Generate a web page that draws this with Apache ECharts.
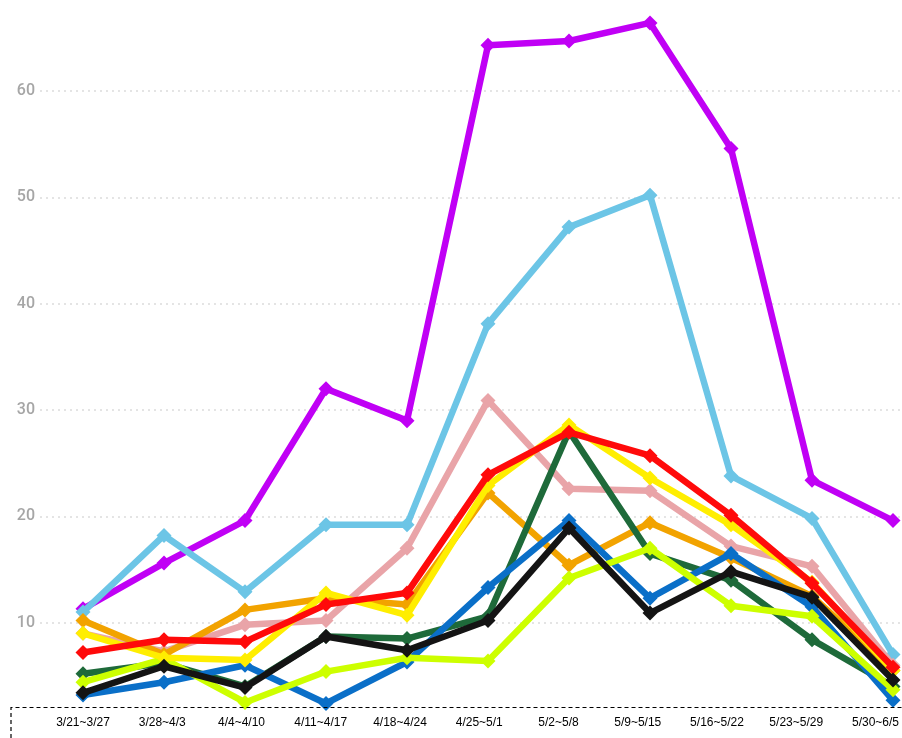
<!DOCTYPE html>
<html><head><meta charset="utf-8">
<script src="https://cdn.jsdelivr.net/npm/echarts@6/dist/echarts.min.js"></script>
<style>html,body{margin:0;padding:0;background:#fff}#c{width:902px;height:738px}</style>
</head><body><div id="c"></div>
<script>
const categories = ['3/21~3/27','3/28~4/3','4/4~4/10','4/11~4/17','4/18~4/24','4/25~5/1','5/2~5/8','5/9~5/15','5/16~5/22','5/23~5/29','5/30~6/5'];
const yTicks = [10,20,30,40,50,60];
const purple    = [11.3,15.6,19.6,32.0,29.0,64.3,64.7,66.4,54.6,23.4,19.6];
const lightBlue = [11.0,18.2,12.9,19.2,19.2,38.1,47.2,50.2,23.8,19.8,7.0];
const pink      = [9.0,7.3,9.8,10.2,17.0,30.9,22.6,22.4,17.2,15.3,6.0];
const orange    = [10.2,7.0,11.2,12.3,11.7,22.2,15.4,19.4,16.1,12.5,5.5];
const green     = [5.2,6.2,4.0,8.7,8.5,10.6,28.0,16.5,14.0,8.4,4.0];
const blue      = [3.2,4.4,6.0,2.4,6.3,13.3,19.6,12.3,16.5,11.5,2.7];
const lime      = [4.4,6.6,2.5,5.4,6.7,6.4,14.2,17.0,11.6,10.6,3.7];
const yellow    = [9.0,6.7,6.5,12.8,10.7,22.9,28.6,23.6,19.2,13.8,5.5];
const red       = [7.2,8.4,8.2,11.7,12.8,23.9,27.9,25.7,20.1,13.7,5.8];
const black     = [3.4,5.9,3.9,8.7,7.4,10.2,18.9,10.9,14.8,12.4,4.6];

const seriesDefs = [
  ['purple', purple, '#c000f5'],
  ['lightBlue', lightBlue, '#6cc5e6'],
  ['pink', pink, '#e9a4a8'],
  ['orange', orange, '#f2a300'],
  ['green', green, '#1e6a3a'],
  ['blue', blue, '#0a6fc8'],
  ['lime', lime, '#cdff00'],
  ['yellow', yellow, '#ffee00'],
  ['red', red, '#ff0a0a'],
  ['black', black, '#141414']
];

const gridColors = ['rgba(0,0,0,0)', '#dcdcdc', '#dcdcdc', '#dcdcdc', '#dcdcdc', '#dcdcdc', '#dcdcdc'];

const chart = echarts.init(document.getElementById('c'));
chart.setOption({
  animation: false,
  backgroundColor: '#fff',
  grid: [
    {left: 40, right: 0, top: 91, bottom: 9},
    {left: 83, right: 9, top: 91, bottom: 9},
    {left: 83, right: 26, top: 600, bottom: 31}
  ],
  xAxis: [
    {gridIndex: 0, type: 'category', data: categories, show: false},
    {gridIndex: 1, type: 'category', data: categories, boundaryGap: false, show: false},
    {gridIndex: 2, type: 'category', data: categories, boundaryGap: false,
      axisLine: {show: false}, axisTick: {show: false}, splitLine: {show: false},
      axisLabel: {show: true, interval: 0, margin: 10, color: '#000', fontFamily: 'Liberation Sans', fontSize: 12}}
  ],
  yAxis: [
    {gridIndex: 0, type: 'value', min: 0, max: 60, interval: 10,
      axisLine: {show: false}, axisTick: {show: false},
      axisLabel: {margin: 5, color: '#a6a6a6', fontFamily: 'Roboto', fontWeight: 500, fontSize: 16,
        formatter: v => (yTicks.indexOf(v) >= 0 ? String(v) : '')},
      splitLine: {show: true, lineStyle: {color: gridColors, type: [2, 4], width: 1.5}}},
    {gridIndex: 1, type: 'value', min: 0, max: 60, interval: 10, show: false, splitLine: {show: false}},
    {gridIndex: 2, type: 'value', show: false, splitLine: {show: false}}
  ],
  series: seriesDefs.map(([name, data, color], i) => ({
    name, type: 'line', data, xAxisIndex: 1, yAxisIndex: 1, clip: false, z: 2 + i,
    symbol: 'diamond', symbolSize: 15, showSymbol: true,
    lineStyle: {color, width: 6.5},
    itemStyle: {color, borderWidth: 0}
  })),
  graphic: [
    {type: 'polyline', shape: {points: [[11, 738], [11, 707.5], [902, 707.5]]},
      style: {stroke: '#000', lineWidth: 1.2, lineDash: [4, 3], fill: null}, z: 100}
  ]
});
</script></body></html>
